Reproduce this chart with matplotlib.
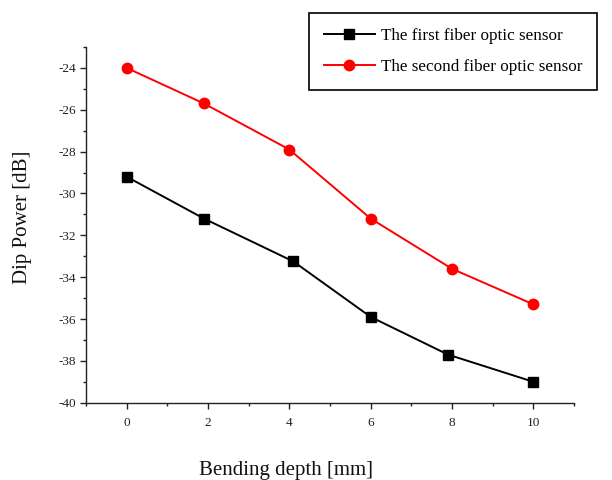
import numpy as np
import matplotlib.pyplot as plt
from matplotlib.ticker import MultipleLocator

# bending depth (mm) and dip power (dB) for the two sensors
depth_first = [0, 1.9, 4.1, 6.0, 7.9, 10.0]
power_first = [-29.2, -31.2, -33.25, -35.9, -37.7, -39.0]

depth_second = [0, 1.9, 4.0, 6.0, 8.0, 10.0]
power_second = [-24.0, -25.7, -27.9, -31.2, -33.6, -35.3]

labels = ['The first fiber optic sensor', 'The second fiber optic sensor']

plt.rcParams['font.family'] = ['Liberation Serif', 'DejaVu Serif']

fig = plt.figure(figsize=(6.12, 4.8), dpi=100)
ax = fig.add_axes([86/612, 1 - 402.7/480, (574 - 86)/612, (402.7 - 47)/480])

ax.plot(depth_first, power_first, color='black', lw=1.4, marker='s', ms=7,
        label=labels[0])
ax.plot(depth_second, power_second, color='red', lw=1.4, marker='o', ms=7.5,
        label=labels[1])

ax.set_xlim(-1, 11)
ax.set_ylim(-40, -23)
ax.xaxis.set_major_locator(MultipleLocator(2))
ax.xaxis.set_minor_locator(MultipleLocator(1))
ax.yaxis.set_major_locator(MultipleLocator(2))
ax.yaxis.set_minor_locator(MultipleLocator(1))
ax.set_xticks(np.arange(0, 11, 2))
ax.set_xticklabels([str(v) for v in range(0, 11, 2)])
ax.set_yticklabels([str(int(v)) for v in ax.get_yticks()])

for side in ('top', 'right'):
    ax.spines[side].set_visible(False)
for side in ('left', 'bottom'):
    ax.spines[side].set_linewidth(1.0)
    ax.spines[side].set_color('#222222')

ax.tick_params(which='major', direction='out', length=4.3, width=1.0,
               labelsize=9.5, colors='#222222')
ax.tick_params(which='minor', direction='out', length=2.2, width=1.0,
               colors='#222222')
ax.tick_params(axis='x', which='major', pad=6)
ax.tick_params(axis='y', which='major', pad=3)

ax.set_xlabel('Bending depth [mm]', fontsize=15, color='#111111')
ax.xaxis.set_label_coords(0.41, -0.165)
ax.set_ylabel('Dip Power [dB]', fontsize=15, color='#111111')
ax.yaxis.set_label_coords(-0.11, 0.52)

leg = fig.legend(loc='upper left', bbox_to_anchor=(309/612, 1 - 13/480),
                 bbox_transform=fig.transFigure, borderaxespad=0,
                 fontsize=12.3, handlelength=3.0, handletextpad=0.35,
                 labelspacing=0.93, borderpad=0.85, fancybox=False,
                 edgecolor='black', framealpha=1)
leg.get_frame().set_linewidth(1.2)

fig.savefig('out.png', dpi=100, facecolor='white')
